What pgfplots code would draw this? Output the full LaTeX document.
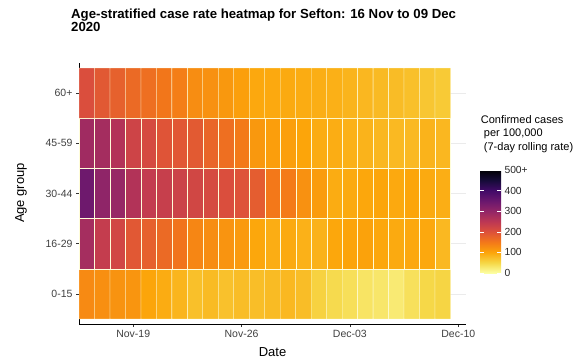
\documentclass[border=0pt]{standalone}
\usepackage{pgfplots}
\pgfplotsset{compat=1.18}
\usepackage{fontspec}
\setmainfont{Liberation Sans}
\pgfplotsset{colormap={infernor}{rgb255(0)=(252,255,164) rgb255(1)=(246,215,70) rgb255(2)=(252,165,10) rgb255(3)=(243,120,25) rgb255(4)=(221,81,58) rgb255(5)=(188,55,84) rgb255(6)=(147,38,103) rgb255(7)=(106,23,110) rgb255(8)=(66,10,104) rgb255(9)=(22,11,57) rgb255(10)=(0,0,4)}}
\begin{document}
\begin{tikzpicture}
\useasboundingbox (-79pt,-38pt) rectangle (506pt,324pt);
\begin{axis}[
  at={(0,0)}, anchor=south west,
  width=387pt, height=261pt, scale only axis,
  xmin=-0.5, xmax=24.5, ymin=-0.6, ymax=4.6,
  axis x line*=bottom, axis y line*=left,
  xtick={3,10,17,24}, xticklabels={Nov-19,Nov-26,Dec-03,Dec-10},
  ytick={0,1,2,3,4}, yticklabels={0-15,16-29,30-44,45-59,60+},
  tick align=outside, major tick length=3pt,
  tick style={black!80, line width=0.5pt},
  axis line style={black, line width=0.6pt},
  ymajorgrids, grid style={black!8, line width=0.5pt},
  ticklabel style={font=\fontsize{10.5}{12}\selectfont, text=black!75},
  point meta min=0, point meta max=500, colormap name=infernor,
  colorbar,
  colorbar shift/.style={},
  /pgfplots/colorbar/width=21pt,
  colorbar style={
    at={(parent axis.south east)}, anchor=south west, xshift=14pt, yshift=51pt,
    height=103pt,
    ytick={0,100,200,300,400,500}, yticklabels={0,100,200,300,400,500+},
    yticklabel style={font=\fontsize{10.3}{12}\selectfont, text=black!85},
    axis line style={draw=none},
    tick style={white, line width=0.5pt},
    major tick length=4pt, tick align=inside, ytick pos=both, yticklabel pos=right,
  },
]
\addplot[matrix plot*, mesh/cols=24, mesh/rows=5, point meta=explicit, shader=faceted, faceted color=white!85!yellow, line width=0.3pt] table[meta=v] {
x y v
0 0 130
1 0 124
2 0 120
3 0 118
4 0 100
5 0 93
6 0 84
7 0 73
8 0 78
9 0 72
10 0 76
11 0 75
12 0 78
13 0 81
14 0 76
15 0 55
16 0 46
17 0 40
18 0 34
19 0 31
20 0 26
21 0 39
22 0 49
23 0 52

0 1 278
1 1 238
2 1 219
3 1 191
4 1 180
5 1 168
6 1 155
7 1 134
8 1 127
9 1 119
10 1 112
11 1 98
12 1 92
13 1 95
14 1 88
15 1 87
16 1 98
17 1 101
18 1 103
19 1 98
20 1 95
21 1 97
22 1 97
23 1 81

0 2 345
1 2 305
2 2 295
3 2 262
4 2 240
5 2 235
6 2 228
7 2 220
8 2 212
9 2 205
10 2 198
11 2 185
12 2 150
13 2 147
14 2 122
15 2 110
16 2 93
17 2 95
18 2 98
19 2 100
20 2 96
21 2 100
22 2 95
23 2 91

0 3 284
1 3 280
2 3 261
3 3 225
4 3 212
5 3 196
6 3 191
7 3 188
8 3 173
9 3 162
10 3 148
11 3 115
12 3 108
13 3 107
14 3 100
15 3 93
16 3 92
17 3 88
18 3 86
19 3 82
20 3 80
21 3 80
22 3 86
23 3 82

0 4 205
1 4 190
2 4 180
3 4 168
4 4 162
5 4 152
6 4 143
7 4 127
8 4 122
9 4 115
10 4 107
11 4 97
12 4 96
13 4 95
14 4 93
15 4 91
16 4 89
17 4 85
18 4 82
19 4 79
20 4 77
21 4 73
22 4 67
23 4 63
};
\end{axis}
\node[anchor=north west, inner sep=0pt, align=left, font=\bfseries\fontsize{13.2}{13.5}\selectfont] at (-8pt,315.6pt) {Age-stratified case rate heatmap for Sefton: 16 Nov to 09 Dec\\2020};
\node[anchor=center, inner sep=0pt, font=\fontsize{13}{15}\selectfont] at (193.5pt,-28pt) {Date};
\node[anchor=center, inner sep=0pt, rotate=90, font=\fontsize{13}{15}\selectfont] at (-58pt,131pt) {Age group};
\node[anchor=north west, inner sep=0pt, align=left, font=\fontsize{11}{13.3}\selectfont] at (401.7pt,208.5pt) {Confirmed cases\\\hspace*{0.278em}per 100,000\\\hspace*{0.278em}(7-day rolling rate)};
\end{tikzpicture}
\end{document}
